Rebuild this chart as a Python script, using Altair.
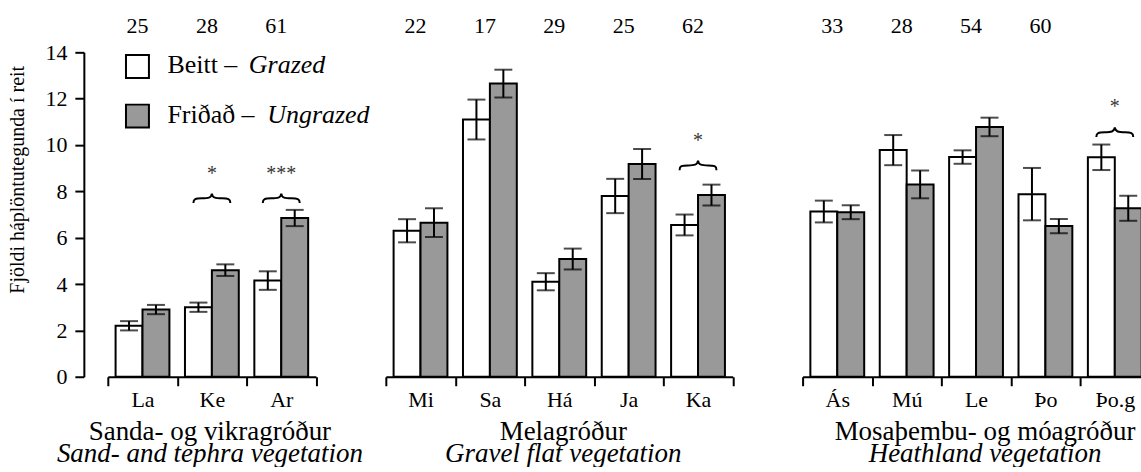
import altair as alt
import pandas as pd

# ---------------- data ----------------
groups = ["sand", "gravel", "heath"]
group_cats = {
    "sand": ["La", "Ke", "Ar"],
    "gravel": ["Mi", "Sa", "Há", "Ja", "Ka"],
    "heath": ["Ás", "Mú", "Le", "Þo", "Þo.g"],
}
group_n = {
    "sand": [25, 28, 61],
    "gravel": [22, 17, 29, 25, 62],
    "heath": [33, 28, 54, 60, None],
}
group_title = {
    "sand": ("Sanda- og vikragróður", "Sand- and tephra vegetation"),
    "gravel": ("Melagróður", "Gravel flat vegetation"),
    "heath": ("Mosaþembu- og móagróður", "Heathland vegetation"),
}
y_title = "Fjöldi háplöntutegunda í reit"

grazed_mean = {
    "sand": [2.2, 3.0, 4.15],
    "gravel": [6.3, 11.1, 4.1, 7.8, 6.55],
    "heath": [7.13, 9.78, 9.48, 7.88, 9.47],
}
grazed_se = {
    "sand": [0.2, 0.2, 0.4],
    "gravel": [0.5, 0.86, 0.37, 0.74, 0.45],
    "heath": [0.47, 0.65, 0.29, 1.13, 0.55],
}
ungrazed_mean = {
    "sand": [2.9, 4.6, 6.85],
    "gravel": [6.65, 12.65, 5.08, 9.18, 7.84],
    "heath": [7.1, 8.3, 10.78, 6.5, 7.27],
}
ungrazed_se = {
    "sand": [0.2, 0.25, 0.35],
    "gravel": [0.62, 0.6, 0.45, 0.65, 0.45],
    "heath": [0.3, 0.6, 0.4, 0.31, 0.54],
}

sig_cats = ["Ke", "Ar", "Ka", "Þo.g"]
sig_groups = ["sand", "sand", "gravel", "heath"]
sig_text = ["*", "***", "*", "*"]
sig_star_y = [8.98, 8.98, 10.38, 11.85]
sig_brace_y = [7.7, 7.7, 9.12, 10.55]

treatments = ["Beitt", "Friðað"]
legend_plain = ["Beitt – ", "Friðað – "]
legend_italic = ["Grazed", "Ungrazed"]

# ---------------- tables ----------------
rows = []
for g in groups:
    for i, c in enumerate(group_cats[g]):
        rows.append(dict(group=g, cat=c, treat="Beitt",
                         mean=grazed_mean[g][i], se=grazed_se[g][i]))
        rows.append(dict(group=g, cat=c, treat="Friðað",
                         mean=ungrazed_mean[g][i], se=ungrazed_se[g][i]))
df = pd.DataFrame(rows)
df["lo"] = df["mean"] - df["se"]
df["hi"] = df["mean"] + df["se"]

nrows = []
for g in groups:
    for c, n in zip(group_cats[g], group_n[g]):
        if n is not None:
            nrows.append(dict(group=g, cat=c, n=str(n)))
ndf = pd.DataFrame(nrows)

sdf = pd.DataFrame(dict(group=sig_groups, cat=sig_cats, txt=sig_text,
                        star=sig_star_y, brace=sig_brace_y))

FONT = "Liberation Serif, Times New Roman, Times, DejaVu Serif, serif"
STEP = 69.5
H = 325
GRAY = "#999999"
BRACE = ("M -1 0.26 C -1 0.03 -0.88 0 -0.55 0 C -0.2 0 -0.03 -0.02 0 -0.26 "
         "C 0.03 -0.02 0.2 0 0.55 0 C 0.88 0 1 0.03 1 0.26")

title_dx = {"sand": -2, "gravel": 4, "heath": 9}
one = pd.DataFrame(dict(p=["x"]))


def panel(g, with_y):
    cats = group_cats[g]
    xenc = alt.X("cat:N", sort=cats,
                 scale=alt.Scale(domain=cats, paddingInner=0, paddingOuter=0),
                 axis=alt.Axis(title=None, labelAngle=0, tickBand="extent",
                               domainColor="black", domainWidth=2,
                               tickColor="black", tickWidth=2, tickSize=9,
                               labelFont=FONT, labelFontSize=22,
                               labelColor="black", labelPadding=4))
    xoff = alt.XOffset("treat:N", sort=treatments,
                       scale=alt.Scale(domain=treatments, paddingInner=0,
                                       paddingOuter=0.289))
    if with_y:
        yaxis = alt.Axis(title=None,
                         values=[0, 2, 4, 6, 8, 10, 12, 14], grid=False,
                         offset=24, domainColor="black", domainWidth=2,
                         tickColor="black", tickWidth=2, tickSize=9,
                         labelFont=FONT, labelFontSize=22, labelColor="black",
                         labelPadding=8)
    else:
        yaxis = None
    yscale = alt.Scale(domain=[0, 14], nice=False, zero=True)

    def Y(field):
        return alt.Y(field, scale=yscale, axis=yaxis, title=None)

    base = alt.Chart(df).transform_filter(alt.datum.group == g)
    bars = base.mark_bar(stroke="black", strokeWidth=2).encode(
        x=xenc, xOffset=xoff,
        y=Y("mean:Q"),
        fill=alt.Fill("treat:N", scale=alt.Scale(domain=treatments,
                                                 range=["white", GRAY]),
                      legend=None),
    )
    err = base.mark_rule(color="black", strokeWidth=2).encode(
        x=xenc, xOffset=xoff, y=Y("lo:Q"), y2="hi:Q")
    cap_lo = base.mark_tick(color="black", thickness=2, size=18).encode(
        x=xenc, xOffset=xoff, y=Y("lo:Q"))
    cap_hi = base.mark_tick(color="black", thickness=2, size=18).encode(
        x=xenc, xOffset=xoff, y=Y("hi:Q"))

    nums = alt.Chart(ndf).transform_filter(alt.datum.group == g).mark_text(
        font=FONT, fontSize=22, color="black", baseline="middle", dx=-5
    ).encode(x=xenc, y=alt.value(-26), text="n:N")

    layers = [bars, err, cap_lo, cap_hi, nums]

    sub = sdf[sdf.group == g]
    if len(sub):
        sbase = alt.Chart(sdf).transform_filter(alt.datum.group == g)
        stars = sbase.mark_text(font=FONT, fontSize=20, color="#333333",
                                baseline="middle", dy=5).encode(
            x=xenc, y=Y("star:Q"), text="txt:N")
        braces = sbase.mark_point(shape=BRACE, size=37 * 37, filled=False,
                                  stroke="black", strokeWidth=2,
                                  opacity=1).encode(
            x=xenc, y=Y("brace:Q"))
        layers += [stars, braces]

    if with_y:
        ytt = alt.Chart(pd.DataFrame(dict(t=[y_title]))).mark_text(
            font=FONT, fontSize=20, color="black", angle=270,
            align="center", baseline="middle").encode(
            x=alt.value(-90), y=alt.value(127.7), text="t:N")
        layers.append(ytt)
        for i, yy in enumerate([14.2, 63.9]):
            sq = alt.Chart(one).mark_square(
                size=23 * 23, fill=["white", GRAY][i], stroke="black",
                strokeWidth=2, opacity=1
            ).encode(x=alt.value(29.7), y=alt.value(yy))
            t1 = alt.Chart(pd.DataFrame(dict(t=[legend_plain[i]]))).mark_text(
                font=FONT, fontSize=26, color="black", align="left",
                baseline="alphabetic").encode(
                x=alt.value(59.7), y=alt.value(yy + 6.5), text="t:N")
            t2 = alt.Chart(pd.DataFrame(dict(t=[legend_italic[i]]))).mark_text(
                font=FONT, fontSize=26, fontStyle="italic", color="black",
                align="left", baseline="alphabetic").encode(
                x=alt.value([141.3, 159.7][i]), y=alt.value(yy + 6.5),
                text="t:N")
            layers += [sq, t1, t2]

    t, s = group_title[g]
    return alt.layer(*layers).properties(
        width=STEP * len(cats), height=H,
        title=alt.TitleParams(
            text=t, subtitle=s, orient="bottom", anchor="middle",
            frame="group", dx=title_dx[g], offset=8,
            font=FONT, fontSize=27, fontWeight="normal", color="black",
            subtitleFont=FONT, subtitleFontSize=27,
            subtitleFontStyle="italic", subtitleColor="black",
            subtitlePadding=-5),
    )


# the right-most panel runs past the right edge of the picture, as in the
# original figure: a negative right padding crops it
chart = alt.hconcat(
    panel("sand", True), panel("gravel", False), panel("heath", False),
    spacing=STEP, bounds="flush",
).configure(font=FONT).configure_view(stroke=None).properties(
    padding={"left": 7, "top": 15, "right": -10, "bottom": 0}
)

chart.save("out.html", embed_options={"renderer": "svg", "actions": False})
